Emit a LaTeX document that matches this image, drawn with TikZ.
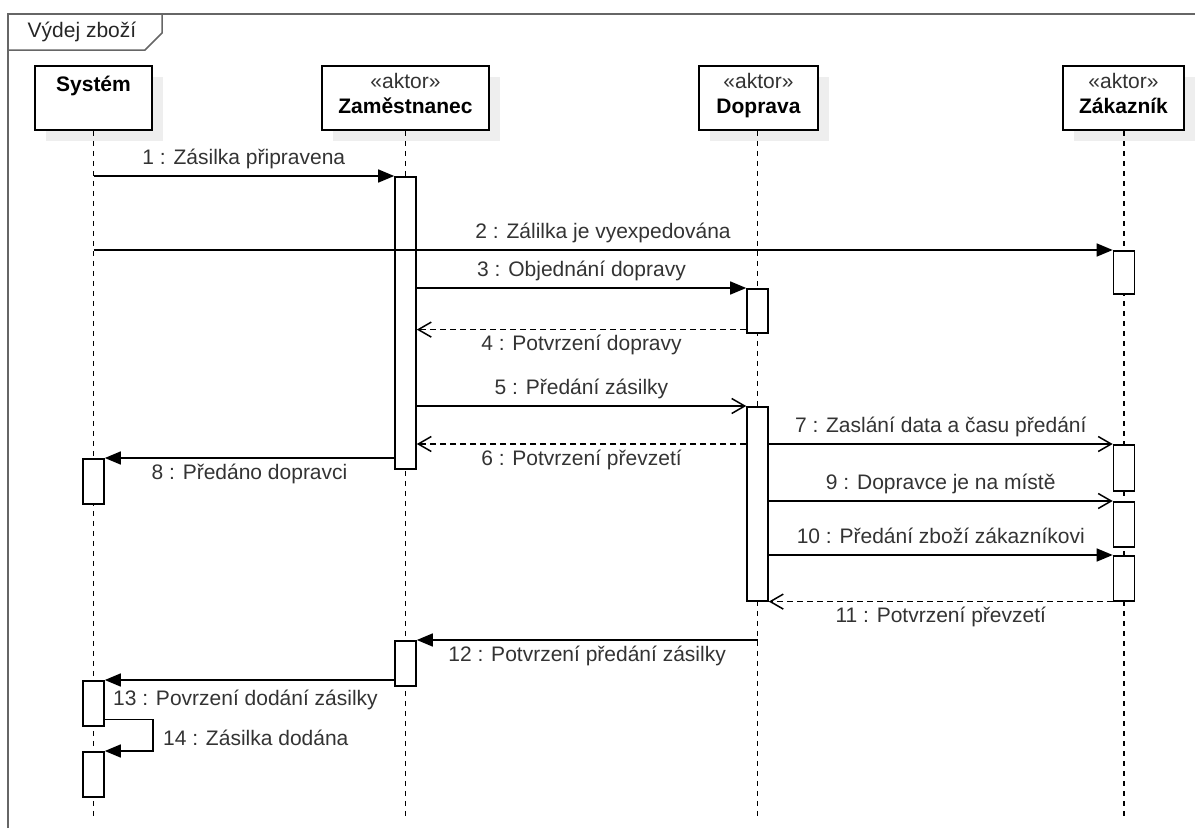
\documentclass[tikz,border=0pt]{standalone}
\usepackage{fontspec}
\setmainfont{Liberation Sans}
\usetikzlibrary{arrows.meta,calc,shadows}
\definecolor{ink}{HTML}{333333}
\definecolor{shade}{HTML}{EEEEEE}
\definecolor{framec}{HTML}{666666}
\newcommand\lblfont{\fontsize{21}{25}\selectfont}

\tikzset{
  head/.style={draw=black, line width=1.6pt, fill=white, minimum width=#1,
    minimum height=64pt, inner sep=0pt,
    drop shadow={shadow xshift=11pt, shadow yshift=-11pt, fill=shade, opacity=1}},
  act/.style={draw=black, line width=1.6pt, fill=white, minimum width=21pt,
    minimum height=#1, inner sep=0pt, anchor=north},
  life/.style={line width=1.4pt, dash pattern=on 5pt off 5pt},
  call/.style={line width=1.5pt, -{Triangle[length=16pt,width=13pt]}},
  send/.style={line width=1.5pt, -{Straight Barb[length=13pt,width=15pt]}},
  reply/.style={send, dash pattern=on 6pt off 4pt},
  lbl/.style={text=ink, font=\lblfont, inner sep=0pt, text height=15pt, text depth=4.5pt},
  htxt/.style={text=black, font=\lblfont, inner sep=0pt, text height=15pt, text depth=4.5pt},
  up/.style={midway, yshift=17pt},
  down/.style={midway, yshift=-16pt},
}

\begin{document}
\begin{tikzpicture}[x=1pt, y=-1pt]
\useasboundingbox (0,0) rectangle (1195,828);

% frame with its name tab
\draw[framec, line width=1.5pt] (8,828) -- (8,14) -- (1195,14);
\draw[framec, line width=1.5pt] (162,14) -- (162,33) -- (145,50) -- (8,50);
\node[lbl, text=black!85] (frame) at (82,32) {Výdej zboží};

% lifeline heads
\node[head=117pt] (hS) at (93.5,98) {};
\node[head=167pt] (hZ) at (405.5,98) {};
\node[head=119pt] (hD) at (758.5,98) {};
\node[head=121pt] (hK) at (1123.5,98) {};

\node[htxt] (tS) at (93.5,86) {\bfseries Systém};
\node[htxt, text=ink] (sZ) at (405.5,83) {«aktor»};
\node[htxt] (tZ) at (405.5,108) {\bfseries Zaměstnanec};
\node[htxt, text=ink] (sD) at (758.5,83) {«aktor»};
\node[htxt] (tD) at (758.5,108) {\bfseries Doprava};
\node[htxt, text=ink] (sK) at (1123.5,83) {«aktor»};
\node[htxt] (tK) at (1123.5,108) {\bfseries Zákazník};

% lifelines
\coordinate (eS) at (93.5,818);
\coordinate (eZ) at (405.5,818);
\coordinate (eD) at (757.5,818);
\coordinate (eK) at (1124,818);
\draw[life] (hS.south -| eS) -- (eS);
\draw[life] (hZ.south -| eZ) -- (eZ);
\draw[life] (hD.south -| eD) -- (eD);
\draw[life] (hK.south -| eK) -- (eK);

% activation bars
\node[act=45pt]  (S1) at (93.5,458) {};
\node[act=45pt]  (S2) at (93.5,680) {};
\node[act=45pt]  (S3) at (93.5,751) {};
\node[act=292pt] (Z1) at (405.5,176) {};
\node[act=45pt]  (Z2) at (405.5,640) {};
\node[act=44pt]  (D1) at (757.5,288) {};
\node[act=194pt] (D2) at (757.5,406) {};
\node[act=43pt]  (K1) at (1124,250) {};
\node[act=46pt]  (K2) at (1124,444) {};
\node[act=45pt]  (K3) at (1124,501) {};
\node[act=45pt]  (K4) at (1124,555) {};

% messages
\draw[call] (eS |- Z1.north) -- (Z1.north west)
  node[lbl, up] {1 : Zásilka připravena};
\draw[call] (eS |- K1.north) -- (K1.north west)
  node[lbl, up] {2 : Zálilka je vyexpedována};
\draw[call] (Z1.east |- D1.north) -- (D1.north west)
  node[lbl, up] {3 : Objednání dopravy};
\coordinate (m4) at ([yshift=4pt]D1.south west);
\draw[reply] (m4) -- (Z1.east |- m4)
  node[lbl, down] {4 : Potvrzení dopravy};
\draw[send] (Z1.east |- D2.north) -- (D2.north west)
  node[lbl, up] {5 : Předání zásilky};
\coordinate (m6) at ([yshift=-38pt]D2.north west);
\draw[reply] (m6) -- (Z1.east |- m6)
  node[lbl, down] {6 : Potvrzení převzetí};
\draw[send] (D2.east |- K2.north) -- (K2.north west)
  node[lbl, up] {7 : Zaslání data a času předání};
\draw[call] (Z1.west |- S1.north) -- (S1.north east)
  node[lbl, down] {8 : Předáno dopravci};
\draw[send] (D2.east |- K3.north) -- (K3.north west)
  node[lbl, up] {9 : Dopravce je na místě};
\draw[call] (D2.east |- K4.north) -- (K4.north west)
  node[lbl, up] {10 : Předání zboží zákazníkovi};
\draw[reply] (K4.south west) -- (D2.south east)
  node[lbl, down] {11 : Potvrzení převzetí};
\draw[call] (eD |- Z2.north) -- (Z2.north east)
  node[lbl, down] {12 : Potvrzení předání zásilky};
\draw[call] (Z2.west |- S2.north) -- (S2.north east);
\node[lbl, anchor=west] (l13) at (113,700) {13 : Povrzení dodání zásilky};
\coordinate (m14) at ([yshift=7pt]S2.south east);
\draw[call] (m14) -- ++(48,0) |- (S3.north east);
\node[lbl, anchor=west] (l14) at (163,740) {14 : Zásilka dodána};
\end{tikzpicture}
\end{document}
